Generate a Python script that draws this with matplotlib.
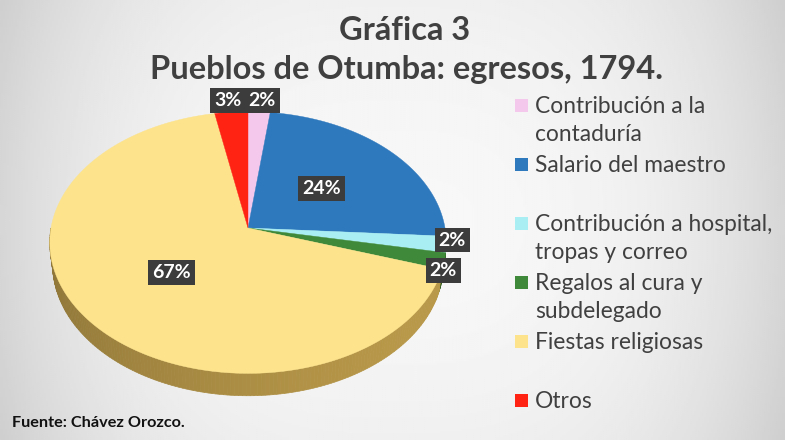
import numpy as np
import matplotlib.pyplot as plt
from matplotlib.patches import Polygon, Rectangle
from matplotlib.colors import to_rgb

plt.rcParams['font.family'] = ['Lato', 'DejaVu Sans']

categorias = ['Contribución a la\ncontaduría', 'Salario del maestro',
              'Contribución a hospital,\ntropas y correo', 'Regalos al cura y\nsubdelegado',
              'Fiestas religiosas', 'Otros']
porcentajes = [2, 24, 2, 2, 67, 3]
colores = ['#f4c8ec', '#2e78bd', '#a8eef3', '#3f8a3a', '#fde38b', '#fe2313']

# radio relativo de cada etiqueta y pequeño ajuste en pixeles
radio_etiqueta = [1.12, 0.5, 1.04, 0.98, 0.5, 1.12]
ajuste_etiqueta = [(2, 1), (0, 0), (-2, -5), (3, 10), (0, 0), (-2, 1)]

fig = plt.figure(figsize=(7.85, 4.4), dpi=100)
ax = fig.add_axes([0, 0, 1, 1])
ax.set_xlim(0, 785)
ax.set_ylim(440, 0)
ax.axis('off')

# fondo gris con degradado
gx = np.linspace(-1, 1, 400)
gy = np.linspace(-1, 1, 220)
X, Y = np.meshgrid(gx, gy)
fondo = 0.97 - 0.13 * np.abs(X) ** 3 - 0.03 * Y ** 2
ax.imshow(fondo, cmap='gray', vmin=0, vmax=1, extent=[0, 785, 440, 0],
          aspect='auto', zorder=0)

# proyeccion en perspectiva del pastel 3D
cx, cy, S = 248, 228, 197
elev = np.radians(41)
D = 6.8
grosor = 0.15


def proyecta(u, v, h=0.0):
    z = D + v * np.cos(elev) - h * np.sin(elev)
    return cx + S * u * D / z, cy - S * (v * np.sin(elev) + h * np.cos(elev)) * D / z


limites = np.concatenate([[0], np.cumsum(porcentajes)]) * 3.6

# caras laterales (solo la mitad frontal)
for i, col in enumerate(colores):
    a0, a1 = max(limites[i], 90), min(limites[i + 1], 270)
    if a1 <= a0:
        continue
    t = np.radians(np.linspace(a0, a1, max(int(a1 - a0), 2)))
    base = np.array(to_rgb(col))
    for k in range(len(t) - 1):
        tt = t[k:k + 2]
        arriba = np.column_stack(proyecta(np.sin(tt), np.cos(tt)))
        abajo = np.column_stack(proyecta(np.sin(tt), np.cos(tt), -grosor))
        f = 0.64 + 0.08 * np.sin(tt.mean()) - 0.04 * np.cos(tt.mean())
        c = np.clip(base * f * np.array([1.0, 0.92, 0.72]), 0, 1)
        ax.add_patch(Polygon(np.vstack([arriba, abajo[::-1]]), closed=True,
                             fc=c, ec=c, lw=0.5, zorder=2))

# caras superiores
for i, col in enumerate(colores):
    t = np.radians(np.linspace(limites[i], limites[i + 1], 200))
    xs, ys = proyecta(np.sin(t), np.cos(t))
    pts = np.vstack([[cx, cy], np.column_stack([xs, ys])])
    ax.add_patch(Polygon(pts, closed=True, fc=col, ec=col, lw=0.3, zorder=3))

# etiquetas de porcentaje
for i, p in enumerate(porcentajes):
    m = np.radians((limites[i] + limites[i + 1]) / 2)
    r = radio_etiqueta[i]
    x, y = proyecta(r * np.sin(m), r * np.cos(m))
    dx, dy = ajuste_etiqueta[i]
    ax.text(x + dx, y + dy, f'{p}%', color='white', fontsize=14, fontweight='bold',
            ha='center', va='center', zorder=5,
            bbox=dict(boxstyle='square,pad=0.2', fc='#3c3c3c', ec='none'))

# titulo
ax.text(405, 31, 'Gráfica 3', fontsize=23.5, fontweight='bold', color='#404040',
        ha='center', va='center')
ax.text(407, 69, 'Pueblos de Otumba: egresos, 1794.', fontsize=23.5, fontweight='bold',
        color='#404040', ha='center', va='center')

# leyenda: cada entrada ocupa el mismo espacio, texto alineado arriba
for i, (nombre, col) in enumerate(zip(categorias, colores)):
    y = 105 + 59 * i
    ax.add_patch(Rectangle((515, y - 6), 13, 13, fc=col, ec='none', zorder=4))
    ax.text(535, y - 9, nombre, fontsize=16.4, color='#404040', ha='left', va='top',
            linespacing=1.4, zorder=4)

ax.text(12, 423, 'Fuente: Chávez Orozco.', fontsize=11.7, fontweight='bold',
        color='#111111', ha='left', va='center')

fig.savefig('out.png', dpi=100)
